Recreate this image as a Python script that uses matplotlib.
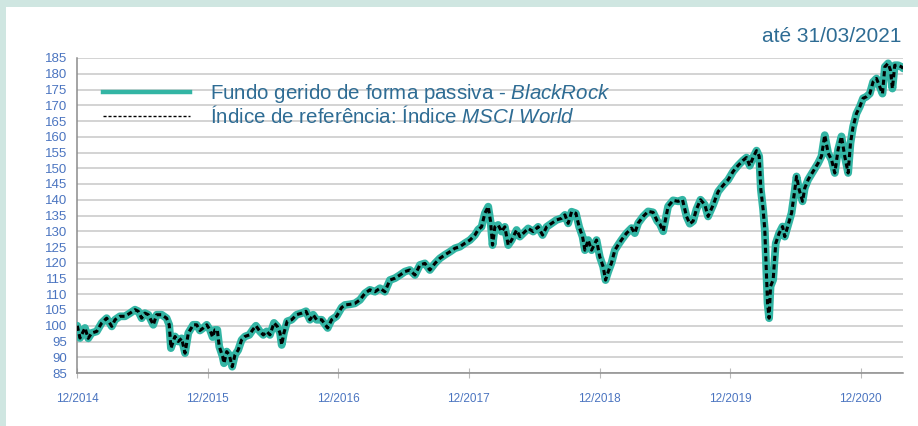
import matplotlib
matplotlib.use('Agg')
import matplotlib.pyplot as plt
from matplotlib.lines import Line2D
from matplotlib.patches import Rectangle

plt.rcParams['font.family'] = ['Liberation Sans', 'DejaVu Sans']
plt.rcParams['mathtext.fontset'] = 'custom'
plt.rcParams['mathtext.rm'] = 'Liberation Sans'
plt.rcParams['mathtext.it'] = 'Liberation Sans:italic'

# time in decimal years (base 100)
anos = [
    2014.919, 2014.940, 2014.978, 2015.003, 2015.029, 2015.068, 2015.106, 2015.144, 2015.183, 2015.208,
    2015.246, 2015.284, 2015.323, 2015.361, 2015.386, 2015.412, 2015.437, 2015.463, 2015.501, 2015.527,
    2015.565, 2015.603, 2015.623, 2015.636, 2015.667, 2015.692, 2015.718, 2015.744, 2015.769, 2015.807,
    2015.833, 2015.858, 2015.884, 2015.910, 2015.935, 2015.955, 2015.973, 2015.991, 2016.006, 2016.032,
    2016.042, 2016.063, 2016.083, 2016.105, 2016.126, 2016.151, 2016.177, 2016.203, 2016.236, 2016.262,
    2016.287, 2016.317, 2016.343, 2016.369, 2016.394, 2016.425, 2016.450, 2016.471, 2016.484, 2016.501,
    2016.526, 2016.560, 2016.598, 2016.637, 2016.670, 2016.700, 2016.725, 2016.751, 2016.790, 2016.836,
    2016.866, 2016.904, 2016.943, 2016.968, 2017.006, 2017.044, 2017.083, 2017.121, 2017.159, 2017.198,
    2017.236, 2017.274, 2017.312, 2017.351, 2017.389, 2017.427, 2017.465, 2017.504, 2017.542, 2017.580,
    2017.618, 2017.657, 2017.695, 2017.733, 2017.772, 2017.810, 2017.848, 2017.886, 2017.925, 2017.963,
    2017.988, 2018.014, 2018.039, 2018.065, 2018.083, 2018.098, 2018.116, 2018.141, 2018.167, 2018.192,
    2018.218, 2018.244, 2018.282, 2018.307, 2018.332, 2018.371, 2018.409, 2018.447, 2018.481, 2018.512,
    2018.550, 2018.588, 2018.626, 2018.652, 2018.677, 2018.703, 2018.736, 2018.761, 2018.787, 2018.805,
    2018.830, 2018.856, 2018.894, 2018.919, 2018.945, 2018.963, 2018.983, 2019.009, 2019.034, 2019.060,
    2019.086, 2019.124, 2019.162, 2019.187, 2019.213, 2019.251, 2019.289, 2019.327, 2019.358, 2019.379,
    2019.404, 2019.442, 2019.480, 2019.519, 2019.552, 2019.583, 2019.608, 2019.633, 2019.659, 2019.690,
    2019.723, 2019.748, 2019.787, 2019.825, 2019.863, 2019.901, 2019.940, 2019.978, 2020.016, 2020.042,
    2020.067, 2020.093, 2020.119, 2020.139, 2020.152, 2020.169, 2020.182, 2020.195, 2020.203, 2020.215,
    2020.226, 2020.246, 2020.266, 2020.292, 2020.318, 2020.335, 2020.361, 2020.387, 2020.412, 2020.425,
    2020.445, 2020.471, 2020.488, 2020.514, 2020.552, 2020.590, 2020.616, 2020.641, 2020.667, 2020.693,
    2020.718, 2020.743, 2020.769, 2020.794, 2020.820, 2020.838, 2020.858, 2020.884, 2020.909, 2020.934,
    2020.960, 2020.986, 2021.011, 2021.037, 2021.062, 2021.083, 2021.101, 2021.126, 2021.144, 2021.159,
    2021.177, 2021.202, 2021.228, 2021.241,
]
fundo = [
    100.0, 96.1, 99.3, 96.0, 97.7, 98.2, 100.9, 102.4, 99.8, 101.9,
    103.0, 103.0, 104.0, 105.1, 104.6, 102.4, 104.0, 103.5, 100.3, 103.5,
    103.5, 102.4, 100.3, 92.9, 96.6, 95.0, 96.0, 91.3, 97.7, 100.3,
    100.3, 98.5, 99.3, 100.3, 98.7, 96.4, 98.7, 98.7, 93.4, 90.2,
    88.1, 91.8, 90.7, 87.0, 90.7, 92.3, 95.5, 96.6, 97.1, 98.7,
    100.0, 98.2, 97.1, 98.2, 97.1, 100.9, 99.8, 97.7, 93.9, 97.7,
    101.4, 101.9, 103.5, 104.0, 104.6, 101.9, 103.5, 101.9, 101.9, 99.3,
    101.9, 103.0, 105.8, 106.6, 106.8, 107.1, 108.2, 110.3, 111.4, 110.8,
    111.9, 110.8, 114.5, 115.1, 116.1, 117.2, 117.7, 116.1, 119.3, 119.8,
    117.7, 119.8, 121.4, 122.5, 123.5, 124.6, 125.1, 126.2, 127.2, 128.8,
    130.5, 131.4, 135.7, 137.8, 133.0, 125.6, 131.4, 132.0, 129.9, 131.4,
    125.6, 127.2, 130.4, 128.3, 129.3, 130.9, 129.9, 131.4, 128.8, 131.4,
    132.5, 133.6, 134.1, 135.2, 132.5, 136.2, 135.7, 131.4, 128.3, 124.0,
    127.2, 124.0, 127.2, 121.9, 118.7, 114.5, 117.1, 120.0, 124.0, 125.7,
    127.3, 129.4, 131.0, 129.4, 132.6, 134.7, 136.3, 136.0, 133.3, 132.3,
    130.0, 137.9, 139.8, 139.5, 140.0, 134.7, 132.4, 133.2, 137.0, 140.0,
    138.4, 134.7, 138.4, 142.6, 144.6, 146.3, 149.0, 150.9, 152.5, 153.4,
    150.8, 153.5, 155.6, 153.8, 143.2, 137.0, 130.5, 115.6, 107.2, 102.4,
    112.5, 114.6, 126.2, 129.4, 131.5, 128.3, 132.1, 135.8, 143.2, 147.4,
    143.2, 139.5, 143.7, 146.4, 149.0, 151.6, 153.8, 160.5, 154.8, 152.7,
    148.5, 155.9, 160.1, 153.8, 148.5, 158.0, 163.2, 167.4, 169.5, 172.2,
    172.7, 173.7, 177.4, 178.5, 175.9, 173.7, 182.2, 183.3, 181.1, 175.3,
    182.7, 182.7, 182.2, 181.7,
]
indice = list(fundo)  # the two series overlap completely in the picture

xticks = [2014.917, 2015.917, 2016.917, 2017.917, 2018.917, 2019.917, 2020.917]
xlabels = ['12/2014', '12/2015', '12/2016', '12/2017', '12/2018', '12/2019', '12/2020']
yticks = list(range(85, 186, 5))

teal = '#33b5a4'
azul = '#2e6c94'
azul_ticks = '#4a74c0'

fig = plt.figure(figsize=(9.18, 4.26), dpi=100, facecolor='#cfe6e1')
fig.patches.append(Rectangle((6 / 918, 0), 1, 1 - 7 / 426, transform=fig.transFigure,
                             facecolor='white', edgecolor='none', zorder=-10))

ax = fig.add_axes([77 / 918, 1 - 373 / 426, (903 - 77) / 918, (373 - 58) / 426])
ax.set_facecolor('none')

ax.plot(anos, fundo, color=teal, lw=5.6, solid_joinstyle='round', solid_capstyle='round', zorder=3)
ax.plot(anos, indice, color='black', lw=2.2, linestyle=(0, (1.7, 1.1)), zorder=4)

ax.set_xlim(2014.917, 2021.24)
ax.set_ylim(85, 185)
ax.set_yticks(yticks)
ax.set_yticklabels([str(v) for v in yticks])
ax.set_xticks(xticks)
ax.set_xticklabels(xlabels)

ax.grid(axis='y', color='#cccccc', lw=1.2)
ax.set_axisbelow(True)
for s in ['top', 'right']:
    ax.spines[s].set_visible(False)
ax.spines['left'].set_color('#8c8c8c')
ax.spines['bottom'].set_color('#8c8c8c')
ax.spines['left'].set_linewidth(1.1)
ax.spines['bottom'].set_linewidth(1.1)

ax.tick_params(axis='y', length=0, pad=7, labelsize=9.5, labelcolor=azul_ticks)
ax.tick_params(axis='x', direction='inout', length=7, width=0.8, color='#bbbbbb',
               pad=11, labelsize=8.5, labelcolor=azul_ticks)

handles = [Line2D([], [], color=teal, lw=3.2),
           Line2D([], [], color='black', lw=1.0, linestyle=(0, (2.2, 1.4)))]
labels = ['Fundo gerido de forma passiva - $\\mathit{BlackRock}$',
          'Índice de referência: Índice $\\mathit{MSCI\\ World}$']
leg = ax.legend(handles, labels, loc='upper left', bbox_to_anchor=(0.022, 0.95), frameon=False,
                fontsize=14.8, handlelength=4.2, handletextpad=1.0, labelspacing=0.0,
                borderaxespad=0)
for t in leg.get_texts():
    t.set_color(azul)

fig.text(901 / 918, 1 - 36 / 426, 'até 31/03/2021', ha='right', va='center', fontsize=15, color=azul)

plt.savefig('out.png', dpi=100, facecolor=fig.get_facecolor())
